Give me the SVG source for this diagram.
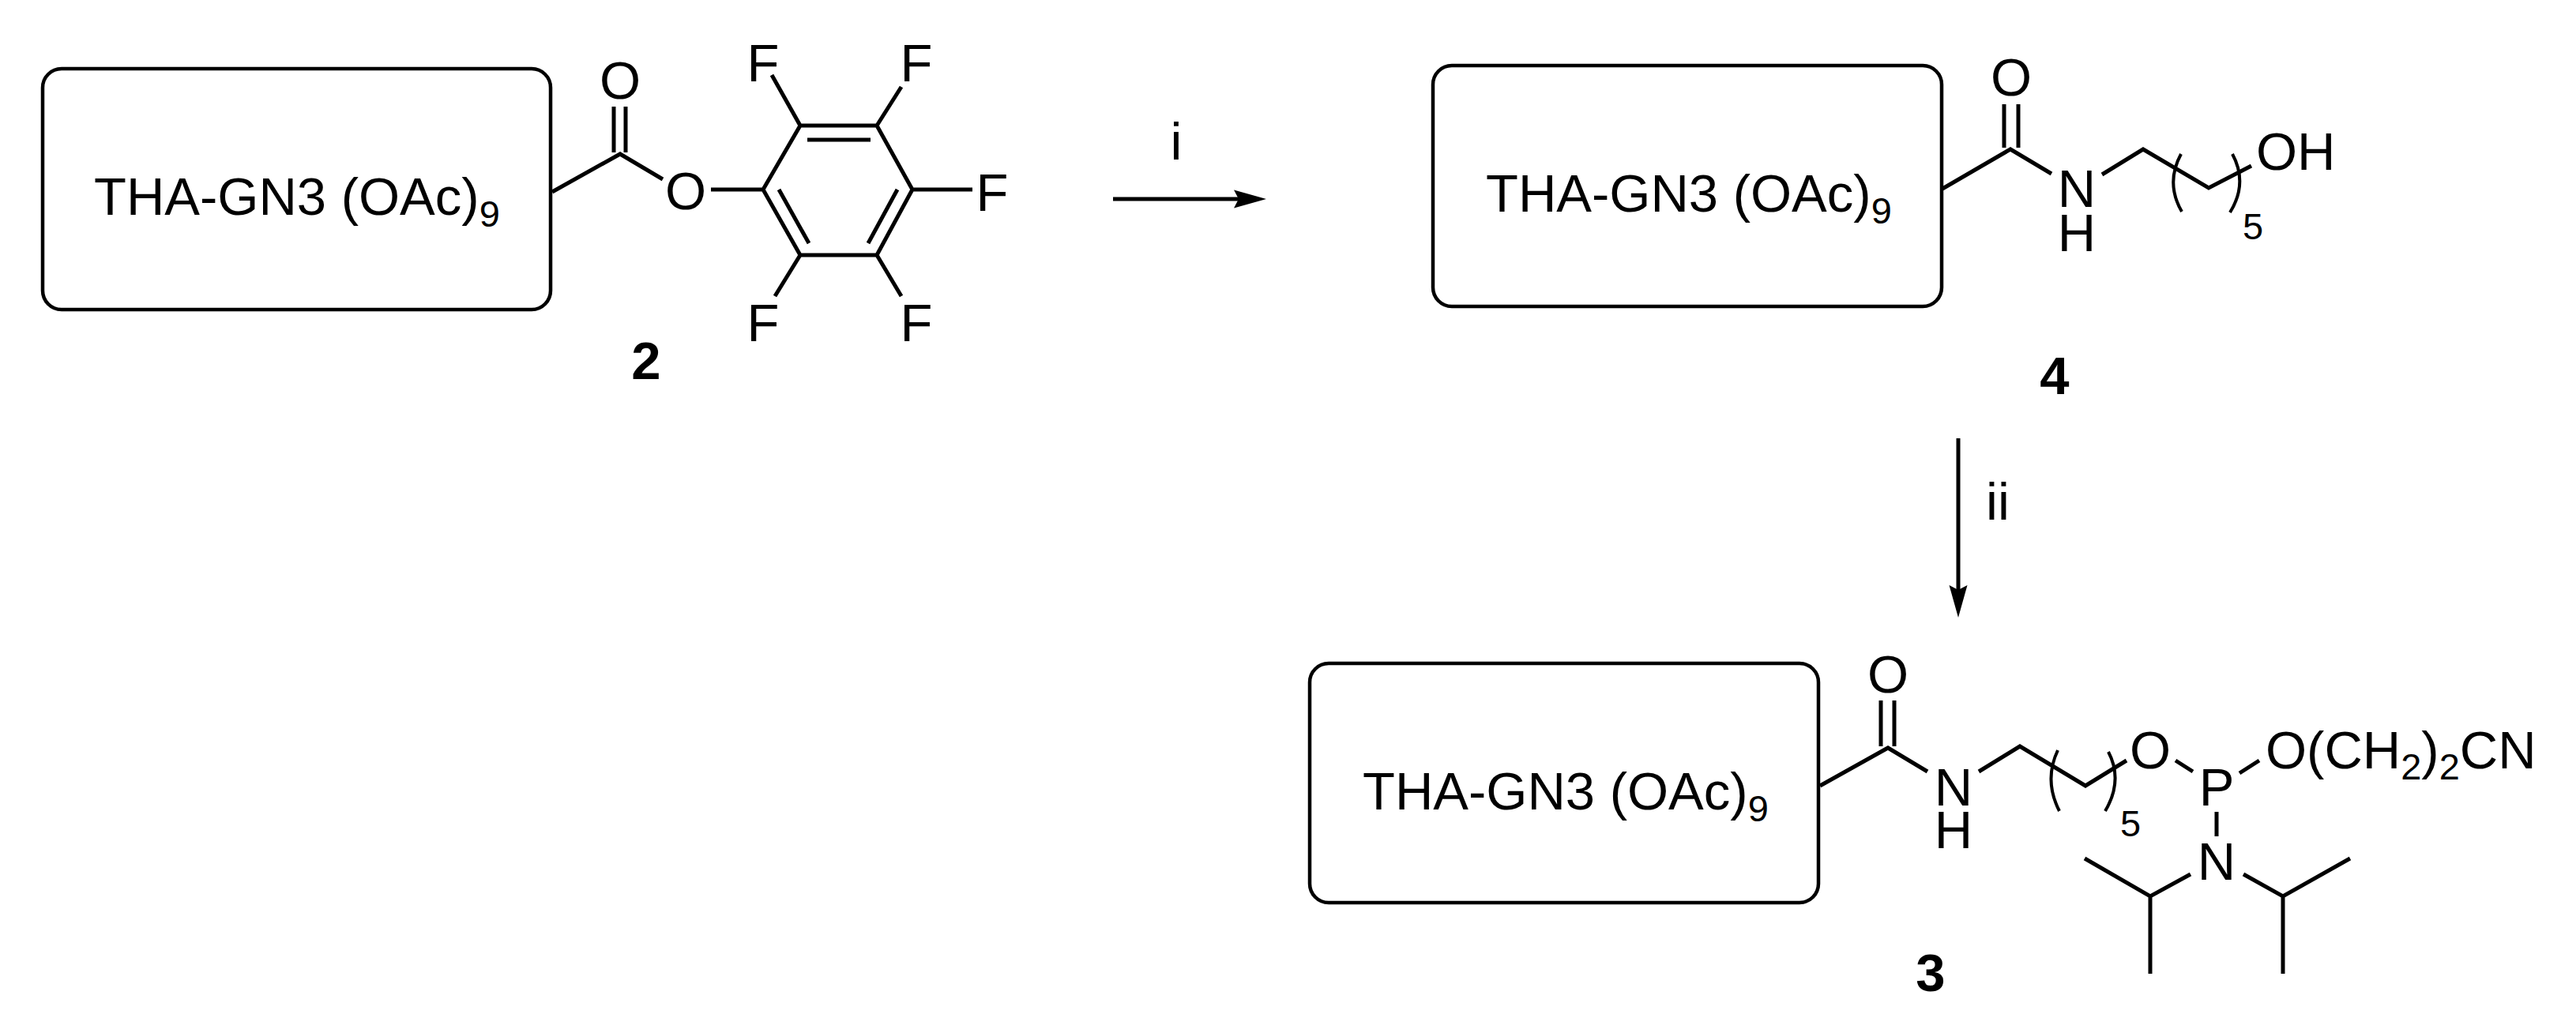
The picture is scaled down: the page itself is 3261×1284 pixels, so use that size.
<svg xmlns="http://www.w3.org/2000/svg" width="3261" height="1284" viewBox="0 0 3261 1284">
<style>
text{font-family:"Liberation Sans",Arial,sans-serif;font-size:67px;fill:#000}
.b{font-weight:bold;text-anchor:middle}
.m{text-anchor:middle}
.s{font-size:47px}
.box{fill:#fff;stroke:#000;stroke-width:4.5}
.l{fill:none;stroke:#000;stroke-width:5}
.t{fill:none;stroke:#000;stroke-width:4}
</style>
<defs><marker id="ah" markerUnits="userSpaceOnUse" markerWidth="50" markerHeight="30" refX="6" refY="12" orient="auto"><path d="M0 0.5L41 12L0 23.5L6 12Z" fill="#000"/></marker></defs>
<g id="node-2">
<rect class="box" x="54" y="87" width="643" height="305" rx="24"/>
<text x="119" y="272">THA-GN3 (OAc)<tspan class="s" dy="15">9</tspan></text>
<path class="l" d="M699 243L785 195L839 227M777 135V193M792 135V193M900 240H966L1013 159H1110L1155 240L1110 323H1013L966 240M1022 177H1102M986 240L1024 308M1136 240L1099 308M1013 159L977 95M1110 159L1141 110M1155 240H1231M1013 323L981 375M1110 323L1141 375"/>
<text class="m" x="785" y="125">O</text><text class="m" x="868" y="265">O</text>
<text class="m" x="966" y="103">F</text><text class="m" x="1160" y="103">F</text><text class="m" x="1256" y="267">F</text><text class="m" x="966" y="432">F</text><text class="m" x="1160" y="432">F</text>
<text class="b" x="818" y="480">2</text>
</g>
<g id="node-4">
<rect class="box" x="1814" y="83" width="644" height="305" rx="24"/>
<text x="1881" y="268">THA-GN3 (OAc)<tspan class="s" dy="15">9</tspan></text>
<path class="l" d="M2459 239L2545 189L2597 220M2537 132V187M2555 132V187M2661 221L2713 189L2796 238L2850 210"/>
<path class="t" d="M2761 195Q2741 232 2762 268M2826 195Q2846 232 2823 269"/>
<text class="m" x="2546" y="121">O</text><text class="m" x="2629" y="262">N</text><text class="m" x="2629" y="318">H</text><text x="2856" y="215">OH</text>
<text class="s m" x="2852" y="303">5</text>
<text class="b" x="2601" y="499">4</text>
</g>
<g id="node-3">
<rect class="box" x="1658" y="840" width="644" height="303" rx="24"/>
<text x="1725" y="1025">THA-GN3 (OAc)<tspan class="s" dy="15">9</tspan></text>
<path class="l" d="M2304 995L2390 947L2440 977M2381 887V945M2398 887V945M2505 977L2557 945L2640 995L2692 963M2754 963L2776 977M2835 979L2860 963M2806 1028V1059M2773 1107L2722 1135L2639 1087M2722 1135V1233M2840 1107L2890 1135L2975 1087M2890 1135V1233"/>
<path class="t" d="M2605 950Q2587 988 2607 1027M2669 952Q2688 988 2665 1027"/>
<text class="m" x="2390" y="877">O</text><text class="m" x="2473" y="1020">N</text><text class="m" x="2473" y="1074">H</text><text class="m" x="2722" y="973">O</text><text class="m" x="2806" y="1020">P</text><text class="m" x="2806" y="1114">N</text>
<text x="2868" y="973">O(CH<tspan class="s" dy="14">2</tspan><tspan dy="-14">)</tspan><tspan class="s" dy="14">2</tspan><tspan dy="-14">CN</tspan></text>
<text class="s m" x="2697" y="1059">5</text>
<text class="b" x="2444" y="1255">3</text>
</g>
<g id="connectors">
<path class="l" d="M1409 252H1568" marker-end="url(#ah)"/>
<path class="l" d="M2479 555V747" marker-end="url(#ah)"/>
</g>
<g id="labels">
<text class="m" x="1489" y="202">i</text>
<text class="m" x="2529" y="658">ii</text>
</g>
</svg>
